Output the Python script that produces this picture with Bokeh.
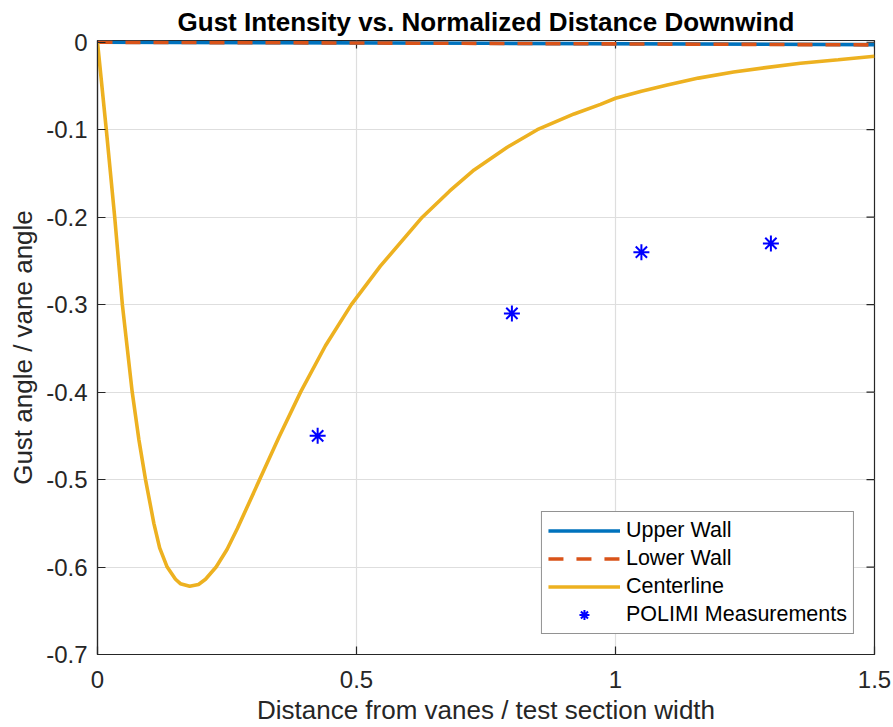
import math
from bokeh.plotting import figure
from bokeh.models import Range1d, FixedTicker, Legend, LegendItem
from bokeh.embed import file_html
from bokeh.resources import INLINE

# ---- data ----
wall_x = [0.0, 0.75, 1.5]
upper_wall = [0.0, -0.0012, -0.0028]
lower_wall = [0.0, -0.0013, -0.0030]

center_x = [0.0, 0.017, 0.0332, 0.048, 0.067, 0.0798, 0.0927, 0.1088, 0.12,
            0.1345, 0.1506, 0.16, 0.178, 0.195, 0.2085, 0.229, 0.25, 0.27, 0.313,
            0.35, 0.392, 0.44, 0.49, 0.546, 0.627, 0.68, 0.727, 0.791, 0.849, 0.92,
            0.971, 1.0, 1.05, 1.1, 1.16, 1.228, 1.29, 1.357, 1.43, 1.5]
center_y = [0.0, -0.10, -0.20, -0.30, -0.40, -0.454, -0.50, -0.55, -0.578,
            -0.60, -0.614, -0.619, -0.622, -0.620, -0.614, -0.60, -0.58, -0.556, -0.50,
            -0.452, -0.40, -0.347, -0.30, -0.256, -0.20, -0.170, -0.146, -0.120, -0.10, -0.082,
            -0.071, -0.064, -0.056, -0.049, -0.041, -0.034, -0.029, -0.024, -0.020, -0.016]

meas_x = [0.425, 0.80, 1.05, 1.30]
meas_y = [-0.45, -0.31, -0.24, -0.23]

x_ticks = [0, 0.5, 1, 1.5]
x_tick_labels = ["0", "0.5", "1", "1.5"]
y_ticks = [-0.7, -0.6, -0.5, -0.4, -0.3, -0.2, -0.1, 0]
y_tick_labels = ["-0.7", "-0.6", "-0.5", "-0.4", "-0.3", "-0.2", "-0.1", "0"]

title_text = "Gust Intensity vs. Normalized Distance Downwind"
x_label = "Distance from vanes / test section width"
y_label = "Gust angle / vane angle"
series_names = ["Upper Wall", "Lower Wall", "Centerline", "POLIMI Measurements"]

# ---- styling ----
FONT = "Liberation Sans"
AX = "#262626"
BLUE = "#0072BD"
ORANGE = "#D95319"
YELLOW = "#EDB120"

X0, X1 = 0.0, 1.5
Y0, Y1 = -0.7, 0.002   # tiny headroom so the wall lines at 0 are not clipped

p = figure(width=893, height=727, output_backend="svg", toolbar_location=None,
           x_range=Range1d(X0, X1), y_range=Range1d(Y0, Y1),
           min_border_left=97, min_border_right=19, min_border_top=40, min_border_bottom=72,
           title=title_text)

p.title.text_font = FONT
p.title.text_font_size = "26px"
p.title.text_font_style = "bold"
p.title.text_color = "#000000"
p.title.align = "center"
p.title.standoff = 7

p.background_fill_color = "white"
p.border_fill_color = "white"
p.outline_line_color = AX
p.outline_line_width = 1.2

for ax, ticks, labels in ((p.xaxis[0], x_ticks, x_tick_labels), (p.yaxis[0], y_ticks, y_tick_labels)):
    ax.ticker = FixedTicker(ticks=ticks)
    ax.major_label_overrides = {t: l for t, l in zip(ticks, labels)}
    ax.major_tick_in = 8
    ax.major_tick_out = 0
    ax.minor_tick_in = 0
    ax.minor_tick_out = 0
    ax.axis_line_color = AX
    ax.axis_line_width = 1.2
    ax.major_tick_line_color = AX
    ax.major_tick_line_width = 1.2
    ax.major_label_text_font = FONT
    ax.major_label_text_font_size = "24px"
    ax.major_label_text_color = AX
    ax.axis_label_text_font = FONT
    ax.axis_label_text_font_size = "26px"
    ax.axis_label_text_font_style = "normal"
    ax.axis_label_text_color = AX

p.xaxis[0].axis_label = x_label
p.yaxis[0].axis_label = y_label
p.xaxis[0].major_label_standoff = 16
p.xaxis[0].axis_label_standoff = 4
p.yaxis[0].major_label_standoff = 10
p.yaxis[0].axis_label_standoff = 5

p.xgrid.ticker = FixedTicker(ticks=x_ticks)
p.ygrid.ticker = FixedTicker(ticks=y_ticks)
for g in (p.xgrid[0], p.ygrid[0]):
    g.grid_line_color = "#dedede"
    g.grid_line_width = 1.2

# inward ticks on the right and top edges (dash markers centred on the frame edge, clipped to the inside)
p.scatter([X1] * len(y_ticks), y_ticks, marker="dash", size=16, line_color=AX, line_width=1.2)
p.scatter(x_ticks, [Y1] * len(x_ticks), marker="dash", size=16, angle=math.pi / 2,
          line_color=AX, line_width=1.2)

r_up = p.line(wall_x, upper_wall, line_color=BLUE, line_width=3.6)
r_low = p.line(wall_x, lower_wall, line_color=ORANGE, line_width=3.6, line_dash="15 13")
r_c = p.line(center_x, center_y, line_color=YELLOW, line_width=3.6)
r_m = p.scatter(meas_x, meas_y, marker="asterisk", size=16, line_color="#0000FF", line_width=2)

legend = Legend(items=[LegendItem(label=n, renderers=[r]) for n, r in zip(series_names, [r_up, r_low, r_c, r_m])],
                location="bottom_right", margin=20, padding=6, spacing=3,
                label_height=25, glyph_height=25, glyph_width=72, label_standoff=6,
                label_text_font=FONT, label_text_font_size="21.5px", label_text_color="#000000",
                border_line_color=AX, border_line_width=1.2, background_fill_color="white",
                background_fill_alpha=1.0)
p.add_layout(legend, "center")

open("out.html", "w").write(file_html(p, INLINE))
